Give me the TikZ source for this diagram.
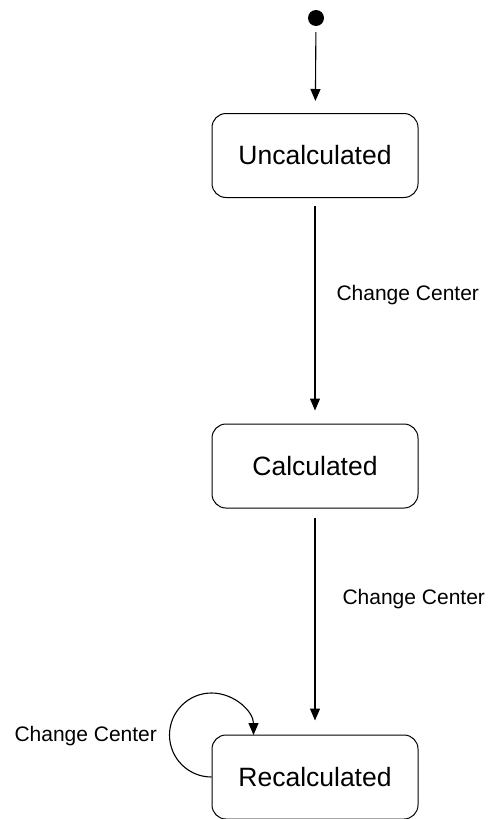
\documentclass[tikz,border=0pt]{standalone}
\usepackage{fontspec}
\setmainfont{Liberation Sans}
\usetikzlibrary{arrows.meta}
\begin{document}
\begin{tikzpicture}[x=1pt,y=-1pt,
                state/.style={draw, line width=1pt, rounded corners=14pt, minimum width=206pt, minimum height=84pt, font=\fontsize{26.5}{30}\selectfont},
                trans/.style={-{Triangle[width=10pt,length=12pt]}, line width=1.1pt},
                lbl/.style={inner sep=0pt, font=\fontsize{21}{24}\selectfont}]
                \useasboundingbox (0,0) rectangle (495,819);
                \node[circle, fill, inner sep=0pt, minimum size=16pt] (init) at (316,18) {};
                \node[state] (uncalc) at (315,155.5) {Uncalculated};
                \node[state] (calc) at (315,466) {Calculated};
                \node[state] (recalc) at (315,777) {Recalculated};

                \draw[trans, shorten <=6pt, shorten >=12pt] (init) to (uncalc);
                \draw[trans, shorten <=8pt, shorten >=13pt] (uncalc) to node[lbl, right=21pt, pos=.43] {Change Center} (calc);
                \draw[trans, shorten <=9pt, shorten >=14pt] (calc) to node[lbl, right=27pt, pos=.40] {Change Center} (recalc);
                \draw[trans] (recalc.west) arc[start angle=270, end angle=0, radius=42pt] node[lbl, pos=.33, left=12pt] {Change Center};
            \end{tikzpicture}
\end{document}
